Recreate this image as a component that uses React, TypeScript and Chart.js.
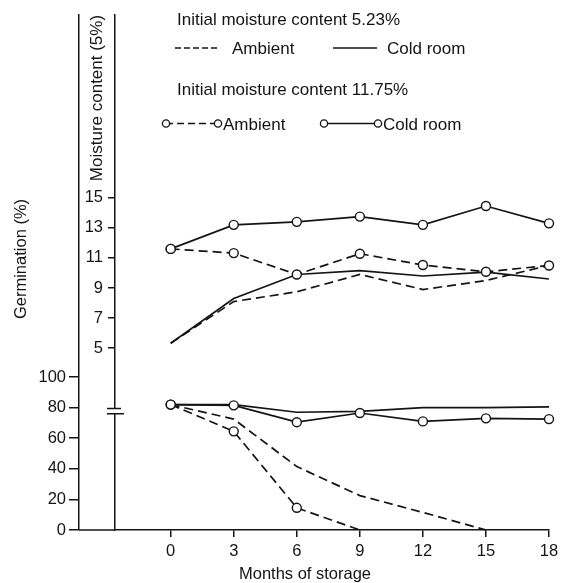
import React, { useEffect, useRef } from 'react';
import { Chart, registerables } from 'chart.js';

Chart.register(...registerables);

// ---------- data ----------
const MONTHS = [0, 3, 6, 9, 12, 15, 18];
const GERM_TICKS = [0, 20, 40, 60, 80, 100];
const MOIST_TICKS = [5, 7, 9, 11, 13, 15];

// Germination (%) – initial moisture 5.23%
const GERM_AMBIENT_LOW = [82, 72.5, 41.5, 22.5, 11.5, 0, null];
const GERM_COLD_LOW = [82, 82, 77, 77.5, 80, 80, 80.5];
// Germination (%) – initial moisture 11.75%
const GERM_AMBIENT_HIGH = [82, 64.5, 14.5, 0, null, null, null];
const GERM_COLD_HIGH = [82, 81.5, 70.5, 76.5, 71, 73, 72.5];
// Moisture content (%) – initial 5.23%
const MOIST_AMBIENT_LOW = [5.33, 8.1, 8.75, 9.9, 8.9, 9.5, 10.5];
const MOIST_COLD_LOW = [5.33, 8.3, 9.9, 10.15, 9.8, 10.05, 9.6];
// Moisture content (%) – initial 11.75%
const MOIST_AMBIENT_HIGH = [11.6, 11.32, 9.9, 11.28, 10.53, 10.08, 10.5];
const MOIST_COLD_HIGH = [11.6, 13.2, 13.4, 13.75, 13.2, 14.45, 13.3];

const X_TITLE = 'Months of storage';
const GERM_TITLE = 'Germination (%)';
const MOIST_TITLE = 'Moisture content (5%)';
const HEAD_LOW = 'Initial moisture content 5.23%';
const HEAD_HIGH = 'Initial moisture content 11.75%';
const LBL_AMBIENT = 'Ambient';
const LBL_COLD = 'Cold room';

// ---------- style ----------
const INK = '#141414';
const FONT = "'Liberation Sans', Arial, Helvetica, sans-serif";
const DASH = [9, 5];

const pts = (arr: (number | null)[]) => MONTHS.map((m, i) => ({ x: m, y: arr[i] }));

const base = {
  borderColor: INK,
  borderWidth: 1.7,
  tension: 0,
  clip: false as const,
  pointBackgroundColor: '#ffffff',
  pointBorderColor: INK,
  pointBorderWidth: 1.4,
  pointHoverRadius: 4.5,
};

const datasets: any[] = [
  { ...base, label: 'germ cold high', data: pts(GERM_COLD_HIGH), yAxisID: 'yG', pointRadius: 4.5 },
  { ...base, label: 'germ ambient high', data: pts(GERM_AMBIENT_HIGH), yAxisID: 'yG', borderDash: DASH, pointRadius: [4.5, 4.5, 4.5, 0, 0, 0, 0] },
  { ...base, label: 'germ cold low', data: pts(GERM_COLD_LOW), yAxisID: 'yG', pointRadius: 0 },
  { ...base, label: 'germ ambient low', data: pts(GERM_AMBIENT_LOW), yAxisID: 'yG', borderDash: DASH, pointRadius: 0 },
  { ...base, label: 'moist cold high', data: pts(MOIST_COLD_HIGH), yAxisID: 'yM', pointRadius: 4.5 },
  { ...base, label: 'moist ambient high', data: pts(MOIST_AMBIENT_HIGH), yAxisID: 'yM', borderDash: DASH, pointRadius: 4.5 },
  { ...base, label: 'moist cold low', data: pts(MOIST_COLD_LOW), yAxisID: 'yM', pointRadius: 0 },
  { ...base, label: 'moist ambient low', data: pts(MOIST_AMBIENT_LOW), yAxisID: 'yM', borderDash: DASH, pointRadius: 0 },
];

const circle = (ctx: CanvasRenderingContext2D, x: number, y: number) => {
  ctx.beginPath();
  ctx.arc(x, y, 3.6, 0, Math.PI * 2);
  ctx.fillStyle = '#ffffff';
  ctx.fill();
  ctx.lineWidth = 1.3;
  ctx.strokeStyle = INK;
  ctx.stroke();
};

const seg = (ctx: CanvasRenderingContext2D, x1: number, x2: number, y: number, dash: number[]) => {
  ctx.save();
  ctx.setLineDash(dash);
  ctx.lineWidth = 1.5;
  ctx.strokeStyle = INK;
  ctx.beginPath();
  ctx.moveTo(x1, y);
  ctx.lineTo(x2, y);
  ctx.stroke();
  ctx.restore();
};

const decorPlugin = {
  id: 'decor',
  afterDraw(chart: any) {
    const { ctx, chartArea, scales } = chart;
    const yG = scales.yG;
    const yM = scales.yM;
    ctx.save();

    // x-axis line continues to the germination axis
    ctx.strokeStyle = INK;
    ctx.lineWidth = 1.5;
    ctx.beginPath();
    ctx.moveTo(yG.right, chartArea.bottom);
    ctx.lineTo(chartArea.left, chartArea.bottom);
    ctx.stroke();

    // axis break on the moisture axis
    const bx = yM.right;
    const b1 = yG.getPixelForValue(79.5);
    const b2 = yG.getPixelForValue(76);
    ctx.fillStyle = '#ffffff';
    ctx.fillRect(bx - 2, b1, 4, b2 - b1);
    ctx.beginPath();
    ctx.moveTo(bx - 8, b1);
    ctx.lineTo(bx + 6, b1);
    ctx.moveTo(bx - 8, b2);
    ctx.lineTo(bx + 9, b2);
    ctx.stroke();

    // titles
    ctx.fillStyle = INK;
    ctx.font = `16.5px ${FONT}`;
    ctx.textAlign = 'center';
    ctx.textBaseline = 'middle';
    ctx.fillText(X_TITLE, 305, 574);
    ctx.save();
    ctx.translate(21, 259);
    ctx.rotate(-Math.PI / 2);
    ctx.fillText(GERM_TITLE, 0, 0);
    ctx.restore();

    // legend
    ctx.font = `17px ${FONT}`;
    ctx.textAlign = 'left';
    ctx.textBaseline = 'alphabetic';
    ctx.fillStyle = INK;
    ctx.fillText(HEAD_LOW, 177, 25);
    seg(ctx, 175, 218, 48, [6, 3]);
    ctx.fillText(LBL_AMBIENT, 232, 53.5);
    seg(ctx, 333, 377, 48, []);
    ctx.fillText(LBL_COLD, 387, 53.5);

    ctx.fillText(HEAD_HIGH, 177, 95);
    seg(ctx, 166, 218, 123.5, [7, 4]);
    circle(ctx, 166, 123.5);
    circle(ctx, 218, 123.5);
    ctx.fillStyle = INK;
    ctx.fillText(LBL_AMBIENT, 223, 130);
    seg(ctx, 324, 378, 123.5, []);
    circle(ctx, 324, 123.5);
    circle(ctx, 378, 123.5);
    ctx.fillStyle = INK;
    ctx.fillText(LBL_COLD, 383, 130);

    ctx.restore();
  },
};

const tickFont = { family: FONT, size: 16.5 };
const axisGrid = (len: number) => ({
  display: true,
  drawOnChartArea: false,
  drawTicks: true,
  tickLength: len,
  color: INK,
  lineWidth: 1.5,
});
const axisBorder = { display: true, color: INK, width: 1.5 };

export default function App() {
  const ref = useRef<HTMLCanvasElement>(null);

  useEffect(() => {
    if (!ref.current) return;
    Chart.defaults.font.family = FONT;
    const chart = new Chart(ref.current, {
      type: 'line',
      data: { datasets },
      plugins: [decorPlugin],
      options: {
        animation: false,
        responsive: true,
        maintainAspectRatio: false,
        layout: { padding: { top: 8, right: 21, left: 0, bottom: 0 } },
        plugins: { legend: { display: false }, tooltip: { enabled: false } },
        scales: {
          x: {
            type: 'linear',
            min: -2.65,
            max: 18,
            afterBuildTicks: (s: any) => {
              s.ticks = MONTHS.map((v) => ({ value: v }));
            },
            afterFit: (s: any) => {
              s.height = 53;
            },
            grid: axisGrid(7),
            border: axisBorder,
            ticks: { color: INK, font: tickFont, padding: 5, maxRotation: 0, autoSkip: false },
          },
          yG: {
            type: 'linear',
            position: 'left',
            weight: 2,
            min: 0,
            max: 336.8,
            afterBuildTicks: (s: any) => {
              s.ticks = GERM_TICKS.map((v) => ({ value: v }));
            },
            afterFit: (s: any) => {
              s.width = 79;
            },
            grid: axisGrid(10),
            border: axisBorder,
            ticks: { color: INK, font: tickFont, padding: 3, autoSkip: false },
          },
          yM: {
            type: 'linear',
            position: 'left',
            weight: 1,
            min: -7.09,
            max: 27.16,
            afterBuildTicks: (s: any) => {
              s.ticks = MOIST_TICKS.map((v) => ({ value: v }));
            },
            afterFit: (s: any) => {
              s.width = 36;
            },
            grid: axisGrid(7),
            border: axisBorder,
            ticks: { color: INK, font: tickFont, padding: 5, autoSkip: false },
            title: {
              display: true,
              text: MOIST_TITLE,
              align: 'end',
              color: INK,
              font: { family: FONT, size: 17 },
              padding: { top: 8.5, bottom: 0 },
            },
          },
        },
      } as any,
    });
    return () => chart.destroy();
  }, []);

  return (
    <div style={{ position: 'absolute', left: 0, top: 0, width: 570, height: 583, background: '#ffffff' }}>
      <canvas ref={ref} />
    </div>
  );
}
